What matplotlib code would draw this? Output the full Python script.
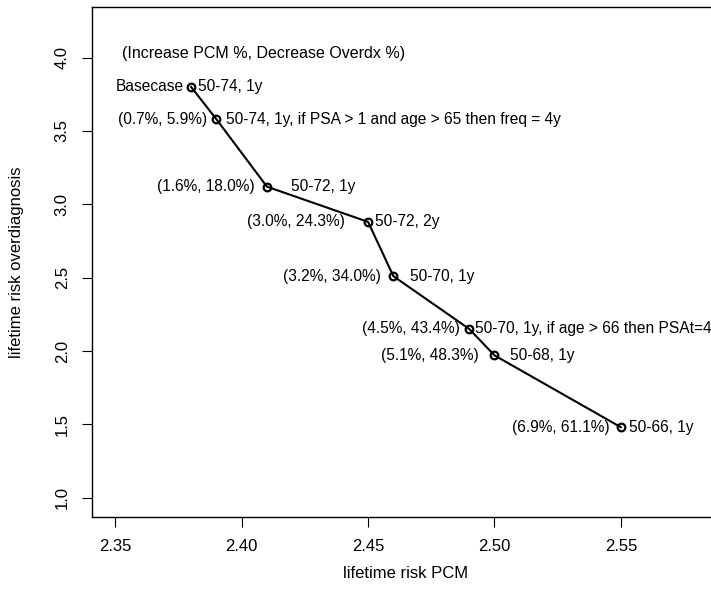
import matplotlib
matplotlib.use('Agg')
import matplotlib.pyplot as plt

plt.rcParams['font.family'] = ['Liberation Sans', 'DejaVu Sans']

# 筛查策略：终身 PCM 风险与过度诊断风险
pcm_risk = [2.38, 2.39, 2.41, 2.45, 2.46, 2.49, 2.50, 2.55]
overdx_risk = [3.80, 3.58, 3.12, 2.88, 2.51, 2.15, 1.97, 1.48]
left_labels = ['Basecase', '(0.7%, 5.9%)', '(1.6%, 18.0%)', '(3.0%, 24.3%)',
               '(3.2%, 34.0%)', '(4.5%, 43.4%)', '(5.1%, 48.3%)', '(6.9%, 61.1%)']
right_labels = ['50-74, 1y',
                '50-74, 1y, if PSA > 1 and age > 65 then freq = 4y',
                '50-72, 1y', '50-72, 2y', '50-70, 1y',
                '50-70, 1y, if age > 66 then PSAt=4',
                '50-68, 1y', '50-66, 1y']
x_ticks = [2.35, 2.40, 2.45, 2.50, 2.55]
y_ticks = [1.0, 1.5, 2.0, 2.5, 3.0, 3.5, 4.0]

# 标签与点之间的间距 (points)
left_gap = [5, 7, 9, 17, 9, 7, 11, 8]
right_gap = [5, 7, 17, 5, 12, 4, 11, 6]

fig = plt.figure(figsize=(7.11, 5.95), dpi=100)
ax = fig.add_axes([92 / 711, 78 / 595, 628 / 711, 510 / 595])

ax.plot(pcm_risk, overdx_risk, color='black', lw=1.5, marker='o', ms=5.5,
        mfc='none', mec='black', mew=1.6)

for x, y, lt, rt, lg, rg in zip(pcm_risk, overdx_risk, left_labels,
                                right_labels, left_gap, right_gap):
    ax.annotate(lt, (x, y), xytext=(-lg, 0), textcoords='offset points',
                ha='right', va='center', fontsize=11.2)
    ax.annotate(rt, (x, y), xytext=(rg, 0), textcoords='offset points',
                ha='left', va='center', fontsize=11.2)

ax.text(2.3525, 4.03, '(Increase PCM %, Decrease Overdx %)', ha='left',
        va='center', fontsize=11.5)

ax.set_xlim(2.3408, 2.5892)
ax.set_ylim(0.868, 4.345)
ax.set_xticks(x_ticks)
ax.set_xticklabels(['%.2f' % t for t in x_ticks])
ax.set_yticks(y_ticks)
ax.set_yticklabels(['%.1f' % t for t in y_ticks], rotation=90, va='center')
ax.tick_params(direction='out', length=7, width=0.8, labelsize=12, pad=9)

ax.set_xlabel('lifetime risk PCM', fontsize=12, va='center')
ax.xaxis.set_label_coords(0.5, -0.11)
ax.set_ylabel('lifetime risk overdiagnosis', fontsize=12, va='center')
ax.yaxis.set_label_coords(-0.12, 0.5)

for s in ax.spines.values():
    s.set_linewidth(1.0)

fig.savefig('out.png', dpi=100)
